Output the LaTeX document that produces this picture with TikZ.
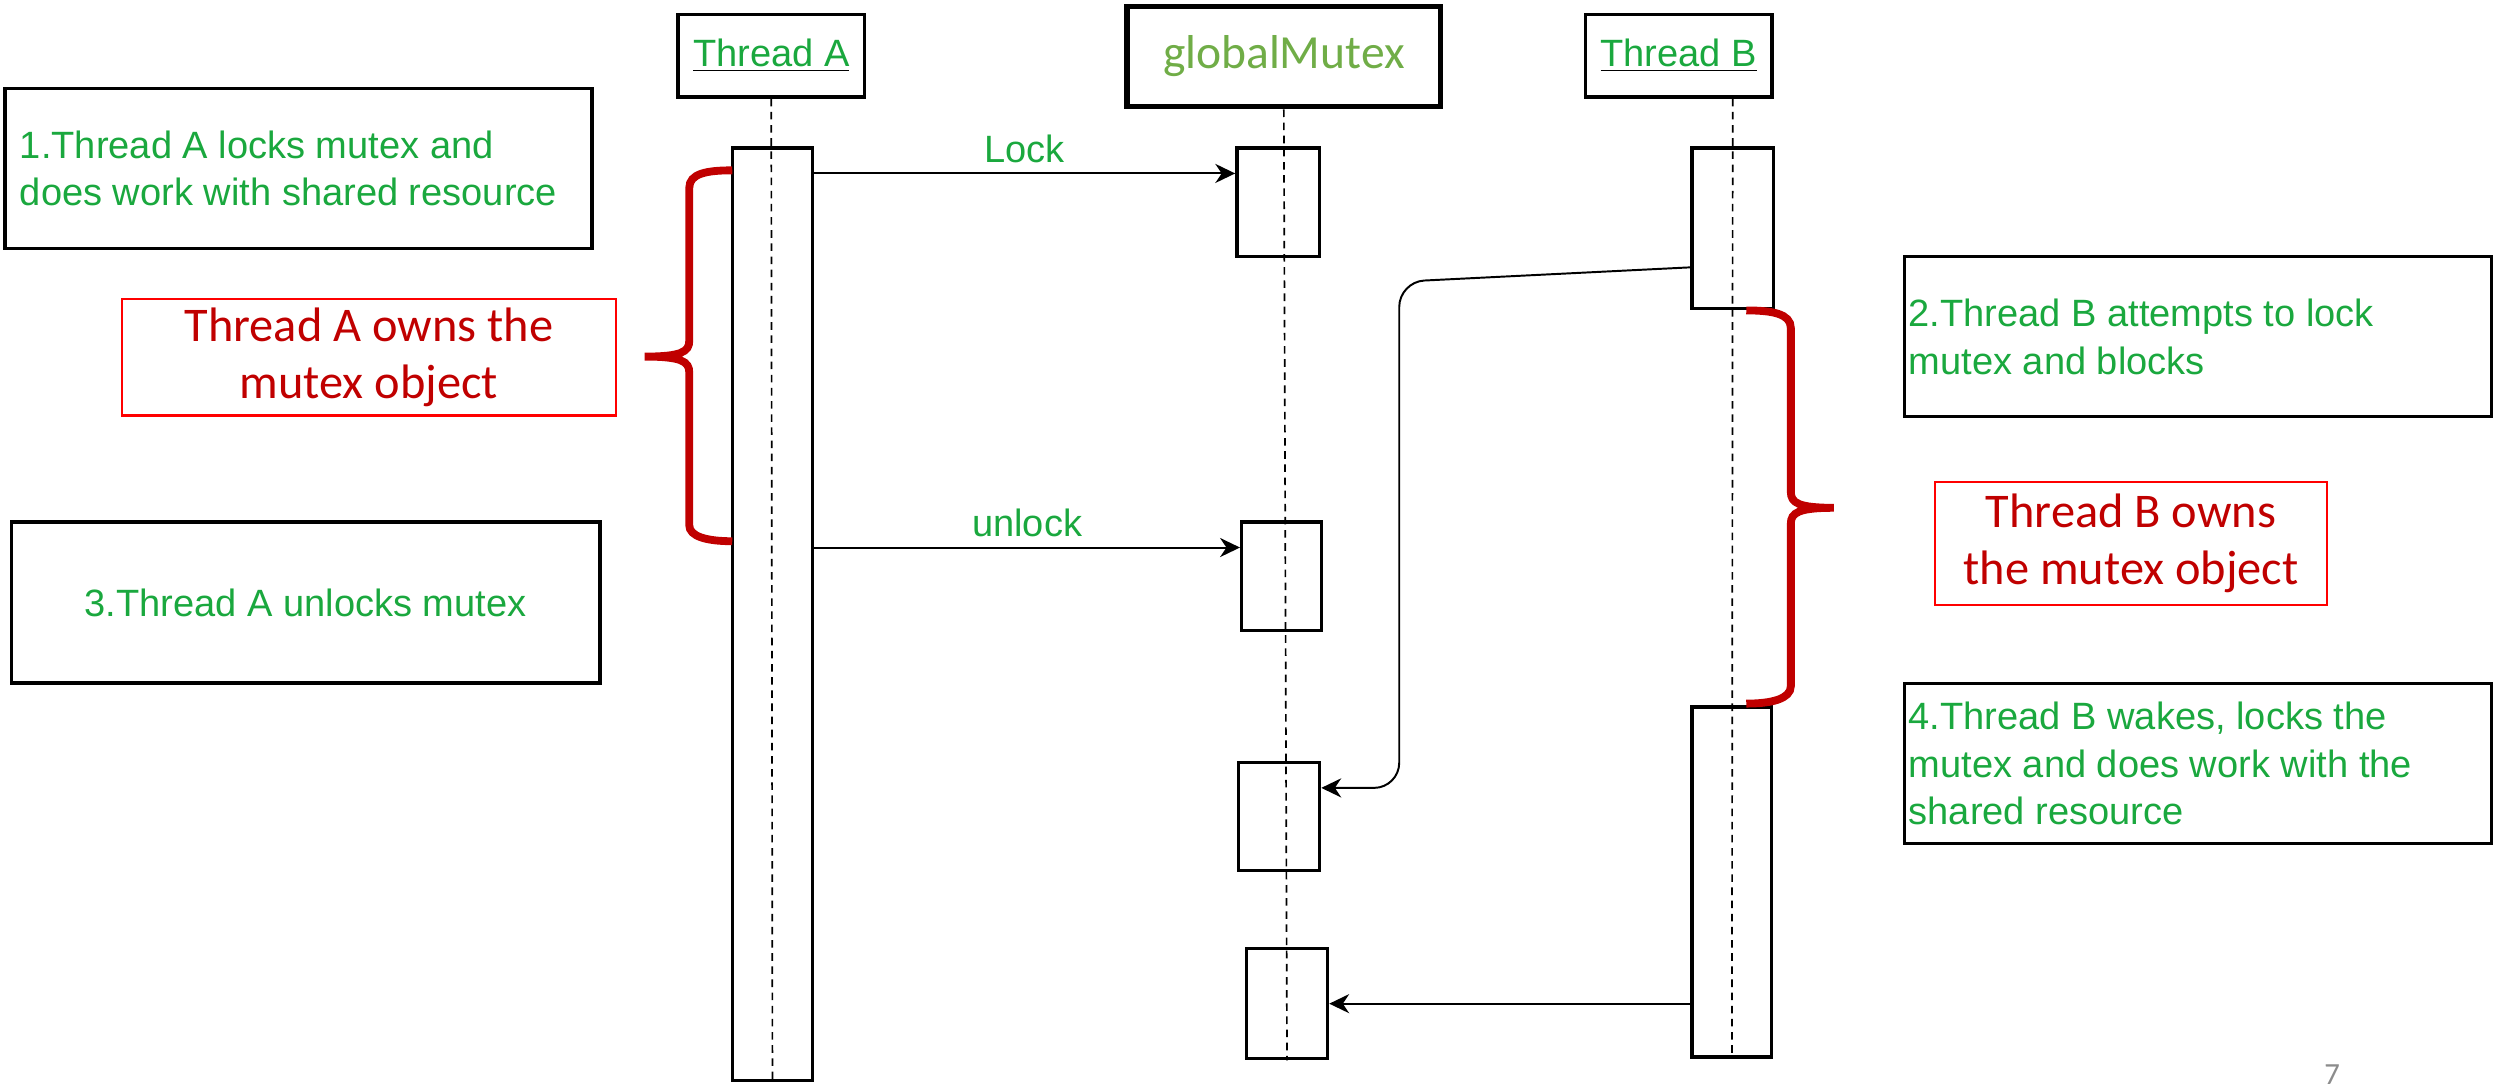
\documentclass[tikz,border=0pt]{standalone}
\usepackage{fontspec}
\setmainfont{Liberation Sans}
\newfontfamily\calibri{Carlito}
\usepackage{xcolor}
\usetikzlibrary{arrows.meta}
\definecolor{notegreen}{HTML}{1AA83E}
\definecolor{mutexgreen}{HTML}{70AD47}
\definecolor{ownred}{HTML}{C00000}
\definecolor{boxred}{HTML}{FF0000}
\definecolor{pagegray}{HTML}{8C8C8C}
\tikzstyle{myhead} = [
    draw,
    line width=1.2pt,
    text=notegreen,
    font=\fontsize{13.6}{17}\selectfont,
    inner sep=0pt,
    minimum width=2.34cm,
    minimum height=1.04cm
    ]
\tikzstyle{mybar} = [
    draw,
    line width=1.2pt,
    inner sep=0pt
    ]
\tikzstyle{mynote} = [
    draw,
    line width=1.2pt,
    text=notegreen,
    font=\fontsize{13.6}{17}\selectfont,
    minimum width=7.38cm,
    minimum height=2.01cm
    ]
\tikzstyle{myowner} = [
    draw=boxred,
    line width=0.8pt,
    text=ownred,
    align=center,
    font=\calibri\fontsize{17.3}{20.5}\selectfont,
    inner sep=0pt
    ]
\tikzstyle{lifeline} = [line width=0.6pt, dash pattern=on 2.7pt off 2pt]
\tikzstyle{msg} = [line width=0.7pt, -{Stealth[length=0.25cm, width=0.24cm, inset=0.08cm]}]
\tikzstyle{msglabel} = [text=notegreen, font=\fontsize{13.6}{17}\selectfont, inner sep=3.5pt]
\tikzstyle{mybrace} = [draw=ownred, line width=2.8pt]
\newcommand{\headlabel}[1]{{\color{black}\underline{\textcolor{notegreen}{#1}}}}

\begin{document}
\begin{tikzpicture}[x=0.02cm, y=-0.02cm]
\useasboundingbox (0,0) rectangle (1568,684);

% heads
\node[myhead] (thA) at (484.5,35) {\headlabel{Thread A}};
\node[draw, line width=2pt, minimum width=3.94cm, minimum height=1.26cm,
      text=mutexgreen, font=\calibri\fontsize{17}{20}\selectfont] (gm) at (806.5,35.5) {globalMutex};
\node[myhead] (thB) at (1054.6,35) {\headlabel{Thread B}};

% activation bars
\node[mybar, minimum width=1.01cm, minimum height=11.72cm] (barA) at (485.25,386) {};
\node[mybar, minimum width=1.04cm, minimum height=1.36cm] (mb1) at (803,127) {};
\node[mybar, minimum width=1.00cm, minimum height=1.36cm] (mb2) at (805,362) {};
\node[mybar, minimum width=1.02cm, minimum height=1.36cm] (mb3) at (803.5,513) {};
\node[mybar, minimum width=1.02cm, minimum height=1.38cm] (mb4) at (808.5,630.5) {};
\node[mybar, minimum width=1.02cm, minimum height=2.02cm] (barB1) at (1088.5,143.5) {};
\node[mybar, minimum width=1.00cm, minimum height=4.40cm] (barB2) at (1088,554) {};

\draw[lifeline] (thA.south) -- (barA.south);
\draw[lifeline] (gm.south) -- (mb4.south);
\draw[lifeline] (thB.south -| barB1.north) -- (barB2.south);

% messages
\coordinate (lk) at ([yshift=-0.34cm]mb1.north west);
\draw[msg] (barA.east |- lk) -- node[msglabel, above] {Lock} (lk);
\coordinate (ulk) at ([yshift=-0.34cm]mb2.north west);
\draw[msg] (barA.east |- ulk) -- node[msglabel, above] {unlock} (ulk);
\coordinate (wt) at ([yshift=-1.52cm]barB1.north west);
\coordinate (bend) at (879,177);
\coordinate (hd) at ([yshift=-0.34cm]mb3.north east);
\draw[msg, rounded corners=9pt] (wt) -- (bend) |- (hd);
\draw[msg] (barB2.west |- mb4.east) -- (mb4.east);

% notes
\node[mynote, text width=7.0cm, align=flush left] (n1) at (187.5,105.75)
    {1.Thread A locks mutex and\\does work with shared resource};
\node[mynote, minimum width=7.4cm, minimum height=2.02cm] (n3) at (192,378.5)
    {3.Thread A unlocks mutex};
\node[mynote, minimum width=7.37cm, inner xsep=0.03cm, text width=7.27cm, align=flush left] (n2) at (1380.8,211.5)
    {2.Thread B attempts to lock\\mutex and blocks};
\node[mynote, minimum width=7.37cm, inner xsep=0.03cm, text width=7.27cm, align=flush left] (n4) at (1380.8,479.7)
    {4.Thread B wakes, locks the\\mutex and does work with the\\shared resource};

\node[myowner, minimum width=6.21cm, minimum height=1.46cm] (ownA) at (231.75,224.5)
    {Thread A owns the\\mutex object};
\node[myowner, minimum width=4.93cm, minimum height=1.54cm] (ownB) at (1338.75,341.5)
    {Thread B owns\\the mutex object};

% braces
\path[mybrace] (460,107) .. controls (444,107) and (433,109) .. (433,118)
    -- (433,214) .. controls (433,221) and (428,224) .. (405,224)
    .. controls (428,224) and (433,227) .. (433,234)
    -- (433,330) .. controls (433,337) and (444,340) .. (460,340);
\path[mybrace] (1097,195) .. controls (1113,195) and (1125,197) .. (1125,206)
    -- (1125,309) .. controls (1125,316) and (1130,319) .. (1152,319)
    .. controls (1130,319) and (1125,322) .. (1125,329)
    -- (1125,431) .. controls (1125,439) and (1113,442) .. (1097,442);

\node[text=pagegray, font=\calibri\fontsize{11}{13}\selectfont] (pg) at (1465,675) {7};
\end{tikzpicture}
\end{document}
